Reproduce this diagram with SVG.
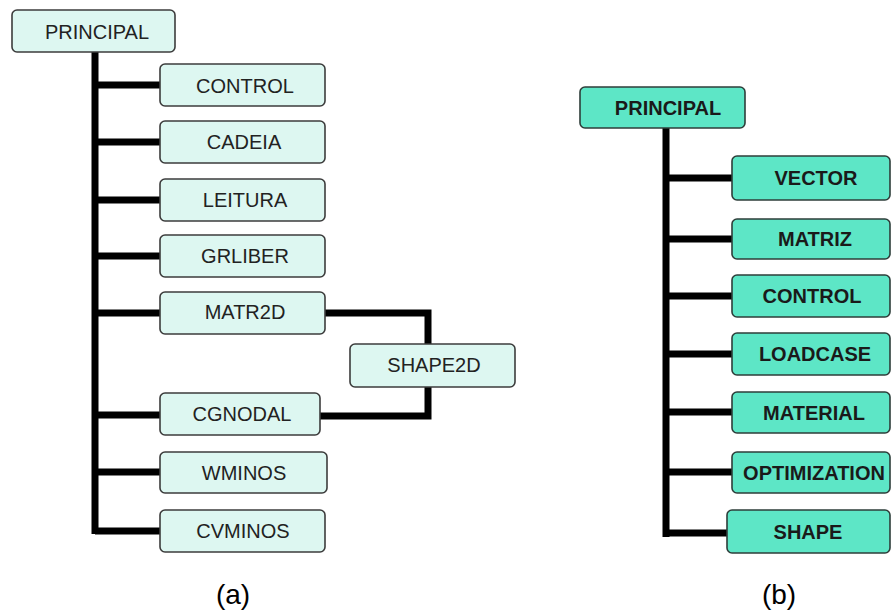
<svg xmlns="http://www.w3.org/2000/svg" width="891" height="612" viewBox="0 0 891 612">
<style>
.a rect{fill:#ddf7f1;stroke:#3c3c3c;stroke-width:1.6}
.b rect{fill:#5de6c6;stroke:#2e3e3a;stroke-width:1.6}
.a text{font-family:"Liberation Sans",Arial,sans-serif;font-size:20px;fill:#222;text-anchor:middle}
.b text{font-family:"Liberation Sans",Arial,sans-serif;font-size:20px;font-weight:bold;fill:#1a1a1a;text-anchor:middle}
.c{stroke:#000;fill:none;stroke-width:7}
.lbl{font-family:"Liberation Sans",Arial,sans-serif;font-size:28px;fill:#000;text-anchor:middle}
</style>
<g id="connectors">
<line class="c" x1="95" y1="52" x2="95" y2="534" stroke-width="9"/>
<path class="c" d="M95,85H160M95,142H160M95,200H160M95,256H160M95,313H160M95,415H160M95,472H160M95,531H160"/>
<path class="c" d="M325,313H428V344M428,387V416H320"/>
<line class="c" x1="666" y1="128" x2="666" y2="537" stroke-width="9"/>
<path class="c" d="M666,178H732M666,239H732M666,296H732M666,354H732M666,412H732M666,472H732M666,533H727"/>
</g>
<g class="a">
<g id="a_principal"><rect x="12" y="10" width="163" height="42" rx="5"/><text x="97" y="39">PRINCIPAL</text></g>
<g id="a_control"><rect x="160" y="64" width="165" height="42" rx="5"/><text x="245" y="93">CONTROL</text></g>
<g id="a_cadeia"><rect x="160" y="121" width="165" height="42" rx="5"/><text x="244" y="149">CADEIA</text></g>
<g id="a_leitura"><rect x="160" y="179" width="165" height="42" rx="5"/><text x="245" y="207">LEITURA</text></g>
<g id="a_grliber"><rect x="160" y="235" width="165" height="42" rx="5"/><text x="245" y="263">GRLIBER</text></g>
<g id="a_matr2d"><rect x="160" y="292" width="165" height="42" rx="5"/><text x="245" y="319">MATR2D</text></g>
<g id="a_shape2d"><rect x="350" y="344" width="165" height="43" rx="5"/><text x="434" y="372">SHAPE2D</text></g>
<g id="a_cgnodal"><rect x="160" y="393" width="160" height="42" rx="5"/><text x="242" y="421">CGNODAL</text></g>
<g id="a_wminos"><rect x="160" y="452" width="167" height="41" rx="5"/><text x="244" y="480">WMINOS</text></g>
<g id="a_cvminos"><rect x="160" y="510" width="165" height="42" rx="5"/><text x="243" y="538">CVMINOS</text></g>
</g>
<g class="b">
<g id="b_principal"><rect x="580" y="87" width="165" height="41" rx="5"/><text x="668" y="115">PRINCIPAL</text></g>
<g id="b_vector"><rect x="732" y="156" width="158" height="44" rx="5"/><text x="816" y="185">VECTOR</text></g>
<g id="b_matriz"><rect x="732" y="219" width="158" height="40" rx="5"/><text x="815" y="246">MATRIZ</text></g>
<g id="b_control"><rect x="732" y="275" width="158" height="42" rx="5"/><text x="812" y="303">CONTROL</text></g>
<g id="b_loadcase"><rect x="732" y="333" width="158" height="42" rx="5"/><text x="815" y="361">LOADCASE</text></g>
<g id="b_material"><rect x="732" y="392" width="158" height="41" rx="5"/><text x="814" y="420">MATERIAL</text></g>
<g id="b_optimization"><rect x="732" y="452" width="158" height="41" rx="5"/><text x="814" y="480">OPTIMIZATION</text></g>
<g id="b_shape"><rect x="727" y="510" width="163" height="43" rx="5"/><text x="808" y="539">SHAPE</text></g>
</g>
<text class="lbl" x="233" y="604">(a)</text>
<text class="lbl" x="779" y="604">(b)</text>
</svg>
